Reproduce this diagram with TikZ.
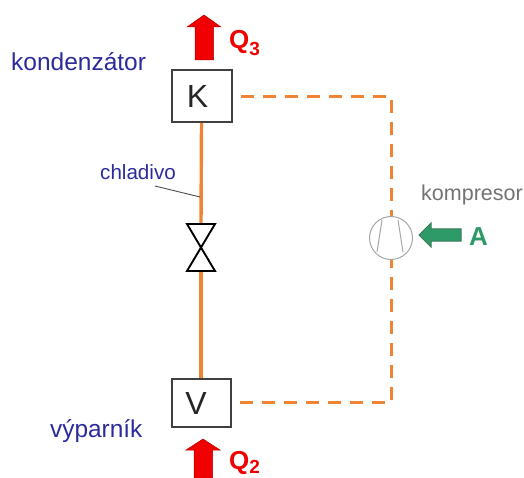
\documentclass[tikz,border=0pt]{standalone}
\usepackage{fontspec}
\setmainfont{Liberation Sans}
\usetikzlibrary{calc}
\definecolor{pipe}{HTML}{EE8434}
\definecolor{labelblue}{HTML}{2B2B9B}
\definecolor{heatred}{HTML}{F00000}
\definecolor{workgreen}{HTML}{2E9A68}
\definecolor{workdark}{HTML}{3C7A5C}
\definecolor{boxgrey}{HTML}{404040}
\newcommand{\lowsub}[2][-7pt]{\raisebox{#1}{\fontsize{19}{19}\selectfont\bfseries #2}}
\tikzset{
  x=1pt,y=-1pt,
  unitbox/.style={draw=boxgrey,line width=2pt,fill=white,inner sep=0pt,font=\fontsize{32}{32}\selectfont,text=black!85},
  solidpipe/.style={draw=pipe,line width=3.4pt},
  dashpipe/.style={draw=pipe,line width=3pt,dash pattern=on 13pt off 9pt},
  bluelabel/.style={text=labelblue,inner sep=0pt,anchor=base west},
  heatlabel/.style={text=heatred,inner sep=0pt,anchor=base west,font=\bfseries\fontsize{26}{26}\selectfont},
}
\begin{document}
\begin{tikzpicture}
\useasboundingbox (0,0) rectangle (524,478);
% nodes
\node[unitbox,minimum width=60pt,minimum height=52pt] (K) at (201.5,96) {\hspace*{-8pt}\raisebox{-2pt}{K}};
\node[unitbox,minimum width=59pt,minimum height=48pt] (V) at (201,403) {\hspace*{-10pt}\raisebox{-2pt}{V}};
\coordinate (valvetop) at (201,224);
\coordinate (valvebot) at (201,271);
\node[circle,draw=black!35,line width=1pt,fill=white,minimum size=43pt,inner sep=0pt] (C) at (391,238) {};
\coordinate (cornerTop) at (391,97);
\coordinate (cornerBot) at (391,402);
\coordinate (leaderend) at (200,197);
\coordinate (leaderstart) at (155,186);
% pipes
\draw[solidpipe] (K.south) -- (valvetop);
\draw[solidpipe] (valvebot) -- (V.north);
\draw[dashpipe] ($(K.east |- cornerTop)+(8,0)$) -- (cornerTop) -- (C.north);
\draw[dashpipe] ($(V.east |- cornerBot)+(8,0)$) -- (cornerBot) -- (C.south);
% valve
\draw[black,line width=1.9pt,line join=miter] (187,224) -- (215,224) -- (187,271) -- (215,271) -- cycle;
% compressor inner lines
\draw[black!35,line width=1pt] (382,220) -- (377,252);
\draw[black!35,line width=1pt] (398,220) -- (403,252);
% leader
\draw[black!70,line width=0.9pt] (leaderstart) -- (leaderend);
% red arrows
\fill[heatred,draw=heatred!75!black,line width=0.5pt] (204,15) -- (221,27) -- (213.5,27) -- (213.5,60) -- (195,60) -- (195,27) -- (187,27) -- cycle;
\fill[heatred,draw=heatred!75!black,line width=0.5pt] (203,439) -- (220,450) -- (212.5,450) -- (212.5,478) -- (194,478) -- (194,450) -- (186,450) -- cycle;
% green arrow
\fill[workgreen,draw=workdark,line width=1pt] (419,235) -- (431,223) -- (431,229) -- (461,229) -- (461,241) -- (431,241) -- (431,247) -- cycle;
% labels
\node[bluelabel,font=\fontsize{24.5}{24.5}\selectfont] (tk) at (11,71) {kondenzátor};
\node[bluelabel,font=\fontsize{24.4}{24.4}\selectfont] (tv) at (50,437) {výparník};
\node[bluelabel,font=\fontsize{20.6}{20.6}\selectfont] (tc) at (100,180) {chladivo};
\node[inner sep=0pt,anchor=base west,text=black!55,font=\fontsize{21.5}{21.5}\selectfont] (tp) at (421,201) {kompresor};
\node[heatlabel] (q3) at (229,49) {Q\lowsub{3}};
\node[heatlabel] (q2) at (229,469) {Q\lowsub[-4pt]{2}};
\node[inner sep=0pt,anchor=base west,text=workgreen,font=\bfseries\fontsize{26}{26}\selectfont] (ta) at (469,245) {A};
\end{tikzpicture}
\end{document}
